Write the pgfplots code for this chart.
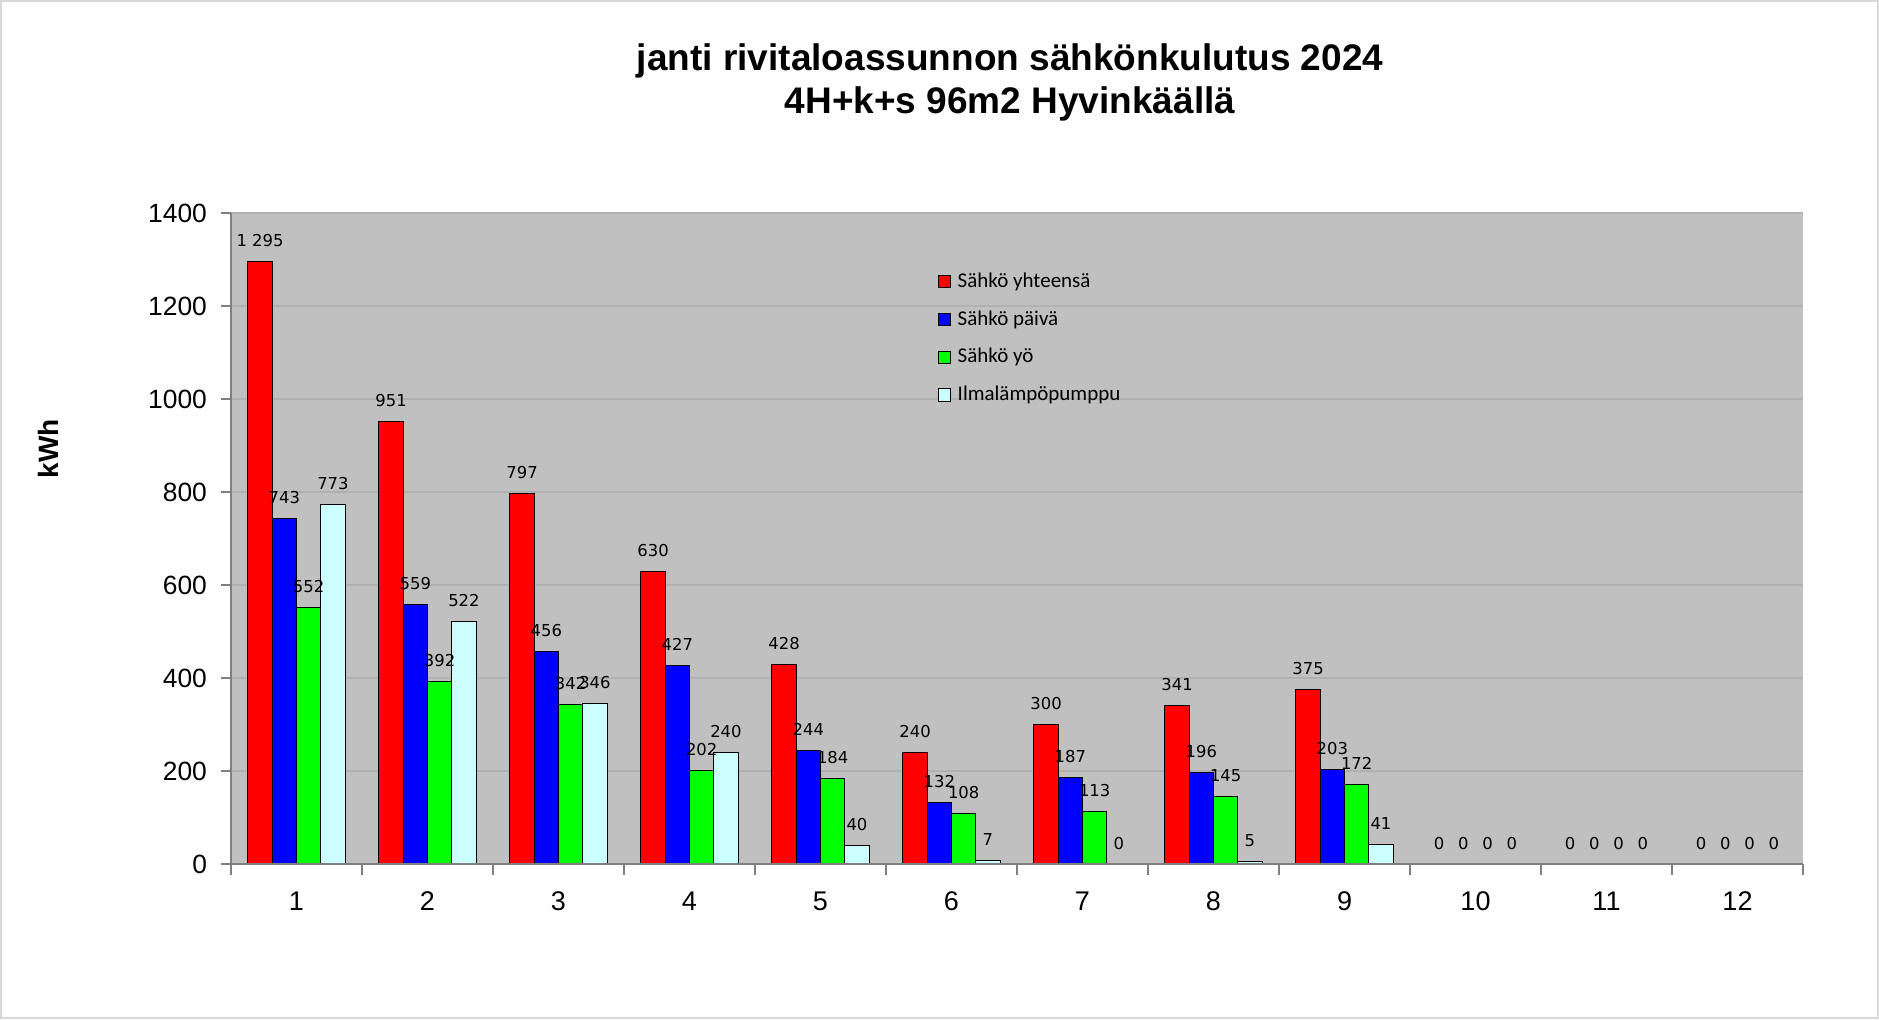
\documentclass[border=0pt]{standalone}
\usepackage{fontspec}
\setmainfont{Liberation Sans}
\newfontfamily\dejavu{DejaVu Sans}
\newfontfamily\carlito{Carlito}
\usepackage{pgfplots}
\pgfplotsset{compat=1.18}
\definecolor{bg}{HTML}{C0C0C0}
\definecolor{gridc}{HTML}{B0B0B0}
\definecolor{axc}{HTML}{808080}
\definecolor{framec}{HTML}{D9D9D9}
\definecolor{ilp}{HTML}{CCFFFF}
\begin{document}
\begin{tikzpicture}
\path[use as bounding box] (-115.5pt,-77.5pt) rectangle (824pt,432pt);
\fill[white] (-115.5pt,-77.5pt) rectangle (824pt,432pt);
\draw[framec, line width=1pt] (-115pt,-77pt) rectangle (823.5pt,431.5pt);
\begin{axis}[
  at={(0pt,0pt)}, anchor=south west,
  scale only axis, width=786pt, height=325.5pt,
  ybar=0pt, bar width=12.15pt,
  xmin=0.5, xmax=12.5, ymin=0, ymax=1400,
  xtick={1,...,12}, major x tick style={draw=none},
  minor xtick={0.5,1.5,...,12.5},
  ytick={0,200,...,1400},
  tick align=outside, major tick length=5pt, minor tick length=5.5pt,
  axis x line*=bottom, axis y line*=left,
  axis line style={axc, line width=0.75pt, -},
  every tick/.style={axc, line width=0.75pt},
  axis background/.style={fill=bg},
  ymajorgrids, major grid style={gridc, line width=0.6pt},
  /pgf/number format/assume math mode=true,
  yticklabel style={font=\fontsize{13.2}{15}\selectfont, /pgf/number format/1000 sep={}, xshift=-3.5pt},
  xticklabel style={font=\fontsize{13.5}{15}\selectfont, yshift=-5.5pt},
  ylabel={kWh},
  ylabel style={font=\bfseries\fontsize{14}{16}\selectfont, at={(rel axis cs:-0.1164,0.6375)}, anchor=center, rotate=0},
  nodes near coords={\pgfmathprintnumber[1000 sep={\ }]{\pgfplotspointmeta}},
  every node near coord/.append style={font=\dejavu\fontsize{8.2}{9}\selectfont, anchor=base, yshift=7.5pt, inner sep=0pt, text=black},
  legend style={at={(rel axis cs:0.4497,0.9106)}, anchor=north west, draw=none, fill=none,
    inner sep=0pt, outer sep=0pt, row sep=8.4pt,
    font=\carlito\fontsize{10.5}{12}\selectfont,
    nodes={inner sep=0pt, text height=8pt, text depth=2.5pt},
    /tikz/every odd column/.append style={column sep=3.2pt}},
  legend cell align=left,
  legend image code/.code={\draw[#1, draw=black, line width=0.5pt] (0pt,-3.1pt) rectangle (6.2pt,3.1pt);},
  clip=false,
]
\addplot[fill=red, draw=black, line width=0.5pt] coordinates {(1,1295) (2,951) (3,797) (4,630) (5,428) (6,240) (7,300) (8,341) (9,375) (10,0) (11,0) (12,0)};
\addplot[fill=blue, draw=black, line width=0.5pt] coordinates {(1,743) (2,559) (3,456) (4,427) (5,244) (6,132) (7,187) (8,196) (9,203) (10,0) (11,0) (12,0)};
\addplot[fill=green, draw=black, line width=0.5pt] coordinates {(1,552) (2,392) (3,342) (4,202) (5,184) (6,108) (7,113) (8,145) (9,172) (10,0) (11,0) (12,0)};
\addplot[fill=ilp, draw=black, line width=0.5pt] coordinates {(1,773) (2,522) (3,346) (4,240) (5,40) (6,7) (7,0) (8,5) (9,41) (10,0) (11,0) (12,0)};
\legend{Sähkö yhteensä, Sähkö päivä, Sähkö yö, Ilmalämpöpumppu}
\end{axis}
\draw[axc, line width=0.75pt] (0pt,0pt) -- (786pt,0pt);
\node[anchor=base, font=\bfseries\fontsize{18.5}{21}\selectfont] at (389.5pt,396.65pt) {janti rivitaloassunnon sähkönkulutus 2024};
\node[anchor=base, font=\bfseries\fontsize{18.5}{21}\selectfont] at (389.5pt,375.1pt) {4H+k+s 96m2 Hyvinkäällä};
\end{tikzpicture}
\end{document}
